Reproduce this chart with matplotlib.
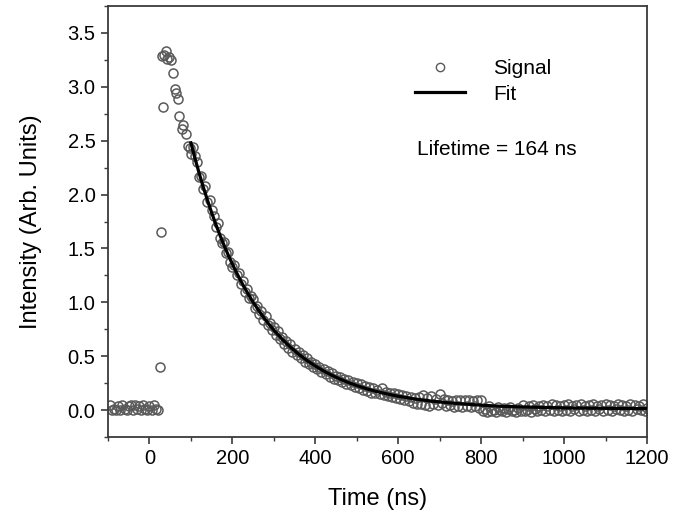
import numpy as np
import matplotlib.pyplot as plt
from matplotlib.lines import Line2D
from matplotlib.ticker import MultipleLocator

plt.rcParams['font.family'] = ['Liberation Sans', 'DejaVu Sans']

# baseline before the pulse (ns, a.u.)
base_t = [-95, -90, -85, -80, -75, -70, -65, -60, -55, -50, -45, -40,
          -35, -30, -25, -20, -15, -10, -5, 0, 5, 10, 15, 20]
base_y = [0.05, 0.0, 0.01, 0.0, 0.04, 0.0, 0.05, 0.01, 0.0, 0.04, 0.05, 0.0,
          0.05, 0.01, 0.04, 0.0, 0.05, 0.01, 0.0, 0.04, 0.0, 0.05, 0.01, 0.0]

# rise / peak
rise_t = [25, 29, 31, 33, 35, 41, 43, 47, 51, 56, 61, 63, 68, 72, 78, 80, 88, 93, 97]
rise_y = [0.40, 1.65, 3.29, 2.81, 3.30, 3.33, 3.26, 3.28, 3.25, 3.13, 2.98, 2.94,
          2.89, 2.73, 2.61, 2.65, 2.56, 2.45, 2.43]

# decay, sampled every 5 ns from 100 to 1200 ns
decay_t = np.arange(100, 1201, 5)
decay_y = [
    2.38, 2.44, 2.36, 2.30, 2.16, 2.17, 2.05, 2.08, 1.93, 1.95,
    1.86, 1.80, 1.70, 1.74, 1.60, 1.55, 1.56, 1.46, 1.47, 1.37,
    1.33, 1.35, 1.25, 1.27, 1.17, 1.20, 1.10, 1.12, 1.04, 1.06,
    1.03, 0.95, 0.97, 0.89, 0.92, 0.84, 0.87, 0.79, 0.81, 0.74,
    0.77, 0.70, 0.73, 0.66, 0.68, 0.61, 0.64, 0.58, 0.61, 0.54,
    0.57, 0.51, 0.54, 0.48, 0.51, 0.45, 0.48, 0.43, 0.45, 0.40,
    0.43, 0.38, 0.40, 0.35, 0.38, 0.33, 0.36, 0.31, 0.34, 0.29,
    0.32, 0.28, 0.31, 0.26, 0.29, 0.24, 0.28, 0.23, 0.26, 0.21,
    0.25, 0.20, 0.24, 0.19, 0.22, 0.18, 0.21, 0.16, 0.20, 0.16,
    0.19, 0.15, 0.20, 0.14, 0.17, 0.13, 0.16, 0.12, 0.16, 0.11,
    0.15, 0.10, 0.14, 0.09, 0.13, 0.08, 0.12, 0.07, 0.11, 0.06,
    0.12, 0.06, 0.14, 0.05, 0.11, 0.04, 0.13, 0.06, 0.10, 0.05,
    0.15, 0.07, 0.10, 0.04, 0.09, 0.05, 0.08, 0.03, 0.09, 0.04,
    0.09, 0.03, 0.09, 0.04, 0.09, 0.03, 0.08, 0.04, 0.09, 0.02,
    0.09, -0.01, 0.01, -0.02, 0.04, -0.01, 0.00, -0.02, 0.03, 0.00,
    -0.01, 0.02, -0.02, 0.01, 0.03, -0.01, 0.00, -0.02, 0.02, -0.01,
    0.05, -0.01, 0.00, 0.04, -0.02, 0.05, 0.01, -0.01, 0.04, 0.00,
    0.05, -0.01, 0.04, 0.00, 0.06, -0.01, 0.05, 0.00, 0.04, -0.01,
    0.05, 0.00, 0.06, -0.01, 0.04, 0.01, 0.05, -0.01, 0.06, 0.00,
    0.04, -0.01, 0.05, 0.00, 0.06, -0.01, 0.04, 0.01, 0.05, -0.01,
    0.06, 0.00, 0.05, -0.01, 0.04, 0.01, 0.06, 0.00, 0.05, -0.01,
    0.04, 0.00, 0.06, -0.01, 0.05, 0.01, 0.04, 0.00, 0.06, -0.01,
    0.02,
]

# single exponential fit (lifetime 164 ns)
fit_t = [100, 110, 120, 130, 140, 150, 160, 170, 180, 190, 200, 210, 220, 230,
         240, 250, 260, 270, 280, 290, 300, 320, 340, 360, 380, 400, 420, 440,
         460, 480, 500, 525, 550, 575, 600, 640, 680, 720, 760, 800, 850, 900,
         1000, 1100, 1200]
fit_y = [2.480, 2.334, 2.197, 2.068, 1.947, 1.833, 1.725, 1.624, 1.529, 1.439,
         1.355, 1.276, 1.201, 1.131, 1.065, 1.002, 0.944, 0.889, 0.837, 0.788,
         0.742, 0.658, 0.584, 0.518, 0.460, 0.409, 0.363, 0.323, 0.287, 0.255,
         0.227, 0.196, 0.170, 0.148, 0.128, 0.103, 0.083, 0.068, 0.056, 0.045,
         0.035, 0.029, 0.020, 0.016, 0.013]

sig_t = list(base_t) + list(rise_t) + list(decay_t)
sig_y = list(base_y) + list(rise_y) + list(decay_y)

fig = plt.figure(figsize=(6.86, 5.15), dpi=100)
ax = fig.add_axes([0.1574, 0.1515, 0.7857, 0.8368])

ax.plot(sig_t, sig_y, linestyle='none', marker='o', markersize=6.5,
        markerfacecolor='none', markeredgecolor='#5a5a5a', markeredgewidth=1.1,
        zorder=2)
ax.plot(fit_t, fit_y, color='black', linewidth=2.3, zorder=3)

ax.set_xlim(-100, 1200)
ax.set_ylim(-0.25, 3.75)
ax.xaxis.set_major_locator(MultipleLocator(200))
ax.xaxis.set_minor_locator(MultipleLocator(100))
ax.yaxis.set_major_locator(MultipleLocator(0.5))
ax.yaxis.set_minor_locator(MultipleLocator(0.25))
ax.yaxis.set_major_formatter(plt.FormatStrFormatter('%.1f'))

for s in ax.spines.values():
    s.set_color('#3a3a3a')
    s.set_linewidth(1.3)
ax.tick_params(which='major', direction='out', length=5, width=1.2,
               color='#3a3a3a', labelsize=14.5, pad=4)
ax.tick_params(which='minor', direction='out', length=3, width=1.0,
               color='#3a3a3a')

ax.set_xlabel('Time (ns)', fontsize=17, labelpad=14)
ax.set_ylabel('Intensity (Arb. Units)', fontsize=17, labelpad=18)

handles = [
    Line2D([], [], linestyle='none', marker='o', markersize=6,
           markerfacecolor='none', markeredgecolor='#5a5a5a', markeredgewidth=1.0),
    Line2D([], [], color='black', linewidth=2.3),
]
ax.legend(handles, ['Signal', 'Fit'], loc='upper left',
          bbox_to_anchor=(0.5696, 0.876), frameon=False, fontsize=15,
          handlelength=2.4, handletextpad=1.35, labelspacing=0.3,
          borderpad=0, borderaxespad=0)

ax.text(0.573, 0.668, 'Lifetime = 164 ns', transform=ax.transAxes,
        fontsize=15, va='center', ha='left')

fig.savefig('out.png', dpi=100, facecolor='white')
